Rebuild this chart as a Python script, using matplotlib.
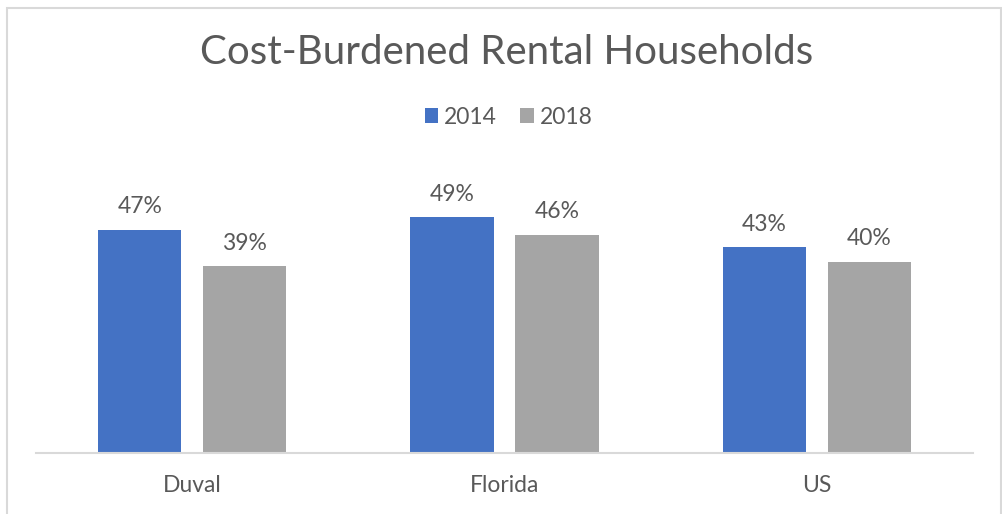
import numpy as np
import matplotlib
matplotlib.use('Agg')
import matplotlib.pyplot as plt
from matplotlib.patches import Rectangle

categories = ['Duval', 'Florida', 'US']
series_names = ['2014', '2018']
vals_2014 = [0.470, 0.497, 0.434]
vals_2018 = [0.394, 0.460, 0.403]
labels_2014 = ['47%', '49%', '43%']
labels_2018 = ['39%', '46%', '40%']

blue = '#4472C4'
grey = '#A5A5A5'
txt = '#595959'
plt.rcParams['font.family'] = ['Lato', 'DejaVu Sans']

W, H = 1003, 514
fg = plt.figure(figsize=(W / 100, H / 100), dpi=100)
fg.patch.set_facecolor('white')

# plot area: baseline at y=453 px, from x=36 to 973
ax = fg.add_axes([36 / W, (H - 453) / H, (973 - 36) / W, (453 - 140) / H])
ax.set_facecolor('none')

x = np.arange(len(categories))
bw = 0.266
off = 0.168
b1 = ax.bar(x - off, vals_2014, bw, color=blue, label=series_names[0], zorder=2)
b2 = ax.bar(x + off, vals_2018, bw, color=grey, label=series_names[1], zorder=2)

for bars, labs in ((b1, labels_2014), (b2, labels_2018)):
    for r, lab in zip(bars, labs):
        ax.annotate(lab, (r.get_x() + r.get_width() / 2, r.get_height()),
                    xytext=(0, 9), textcoords='offset points',
                    ha='center', va='bottom', fontsize=16.5, color=txt)

ax.set_xlim(-0.5, 2.5)
ax.set_ylim(0, 313 / 4.745 / 100)
ax.set_xticks(x)
ax.set_xticklabels(categories, fontsize=16.5, color=txt)
ax.tick_params(axis='x', length=0, pad=16)
ax.set_yticks([])
for s in ['top', 'right', 'left']:
    ax.spines[s].set_visible(False)
ax.spines['bottom'].set_color('#D9D9D9')
ax.spines['bottom'].set_linewidth(1.5)

fg.text(0.505, 1 - 53 / H, 'Cost-Burdened Rental Households', ha='center', va='center',
        fontsize=29, color=txt)

fg.legend(handles=[b1, b2], labels=series_names, loc='center', bbox_to_anchor=(0.507, 1 - 117 / H),
          ncol=2, frameon=False, fontsize=16.5, labelcolor=txt, handlelength=0.6, handleheight=0.6,
          handletextpad=0.25, columnspacing=1.0)

# outer chart border
fg.patches.append(Rectangle((7 / W, -0.05), (1001 - 7) / W, 1.05 - 8 / H,
                            transform=fg.transFigure, fill=False, edgecolor='#D9D9D9',
                            linewidth=1.5, clip_on=False))

fg.savefig('out.png', dpi=100)
